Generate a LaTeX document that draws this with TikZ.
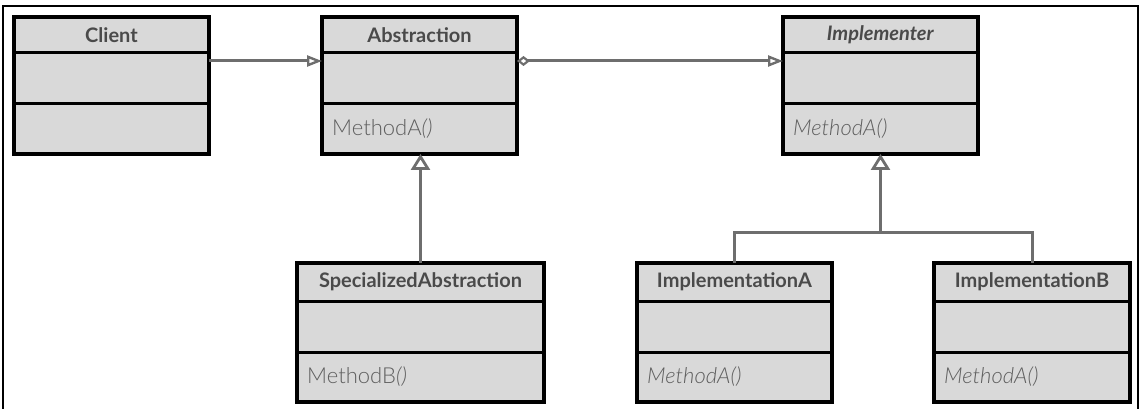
\documentclass[tikz,border=0pt]{standalone}
\usepackage{fontspec}
\setmainfont{Lato}
\newfontfamily\lightfont{Lato Light}
\usetikzlibrary{arrows.meta,calc,fit}
\definecolor{boxfill}{HTML}{D9D9D9}
\definecolor{titlegray}{HTML}{4A4A4A}
\definecolor{methgray}{HTML}{5E5E5E}
\definecolor{conngray}{HTML}{6E6E6E}
\tikzset{
  classbox/.style={draw=black, line width=3.4pt, fill=boxfill, inner sep=0pt, outer sep=0pt},
  divider/.style={draw=black, line width=3pt},
  titletext/.style={text=titlegray, font=\fontsize{20}{24}\selectfont\bfseries, inner sep=0pt},
  methodtext/.style={text=methgray, font=\fontsize{22}{26}\lightfont, inner sep=0pt, anchor=west},
  conn/.style={draw=conngray, line width=3pt},
  assoc/.style={conn, -{Triangle[open, length=15pt, width=11pt, line width=2.4pt]}},
  aggr/.style={conn, {Diamond[open, length=13pt, width=10pt, line width=2.2pt]}-{Triangle[open, length=15pt, width=11pt, line width=2.4pt]}},
  inherit/.style={conn, -{Triangle[open, length=16pt, width=19pt, line width=2.8pt, fill=white]}},
  frameline/.style={draw=black, line width=2.6pt}
}
% #1 name, #2 left, #3 top, #4 right, #5 bottom, #6 div1, #7 div2, #8 title, #9 method
\newcommand\umlclass[9]{%
  \path (#2,#3) coordinate (#1-nw) (#4,#5) coordinate (#1-se);
  \node[classbox, fit=(#1-nw)(#1-se)] (#1) {};
  \draw[divider] (#2,#6) -- (#4,#6);
  \draw[divider] (#2,#7) -- (#4,#7);
  \draw[classbox, fill=none] (#1-nw) rectangle (#1-se);
  \node[titletext] (#1-t) at ({(#2+#4)/2},{(#3+#6)/2}) {#8};
  \node[methodtext] (#1-m) at ({#2+10},{(#7+#5)/2}) {#9};
}
\begin{document}
\begin{tikzpicture}[x=1pt,y=-1pt]
\useasboundingbox (0,0) rectangle (1141,409);
\draw[frameline] (3,409) -- (3,6) -- (1138,6) -- (1138,409);

\umlclass{client}{14}{17}{209}{154}{53}{104}{Client}{}
\umlclass{abstr}{322}{17}{517}{154}{53}{104}{Abstraction}{MethodA\textit{()}}
\umlclass{implr}{783}{17}{978}{154}{53}{104}{\textit{Implementer}}{\textit{MethodA()}}
\umlclass{spec}{297}{263}{544}{402}{301}{352}{SpecializedAbstraction}{MethodB\textit{()}}
\umlclass{implA}{637}{263}{832}{402}{301}{352}{ImplementationA}{\textit{MethodA()}}
\umlclass{implB}{934}{263}{1130}{402}{301}{352}{ImplementationB}{\textit{MethodA()}}

\draw[assoc] ($(client.north east)+(0,44)$) -- ($(abstr.north west)+(0,44)$);
\draw[aggr] ($(abstr.north east)+(0,44)$) -- ($(implr.north west)+(0,44)$);
\draw[inherit] (spec.north) -- (spec.north |- abstr.south);
\coordinate (junc) at ($(implr.south)+(0,78)$);
\draw[conn] (implA.north) |- (junc) -| (implB.north);
\draw[inherit] (junc) -- (implr.south);
\end{tikzpicture}
\end{document}
